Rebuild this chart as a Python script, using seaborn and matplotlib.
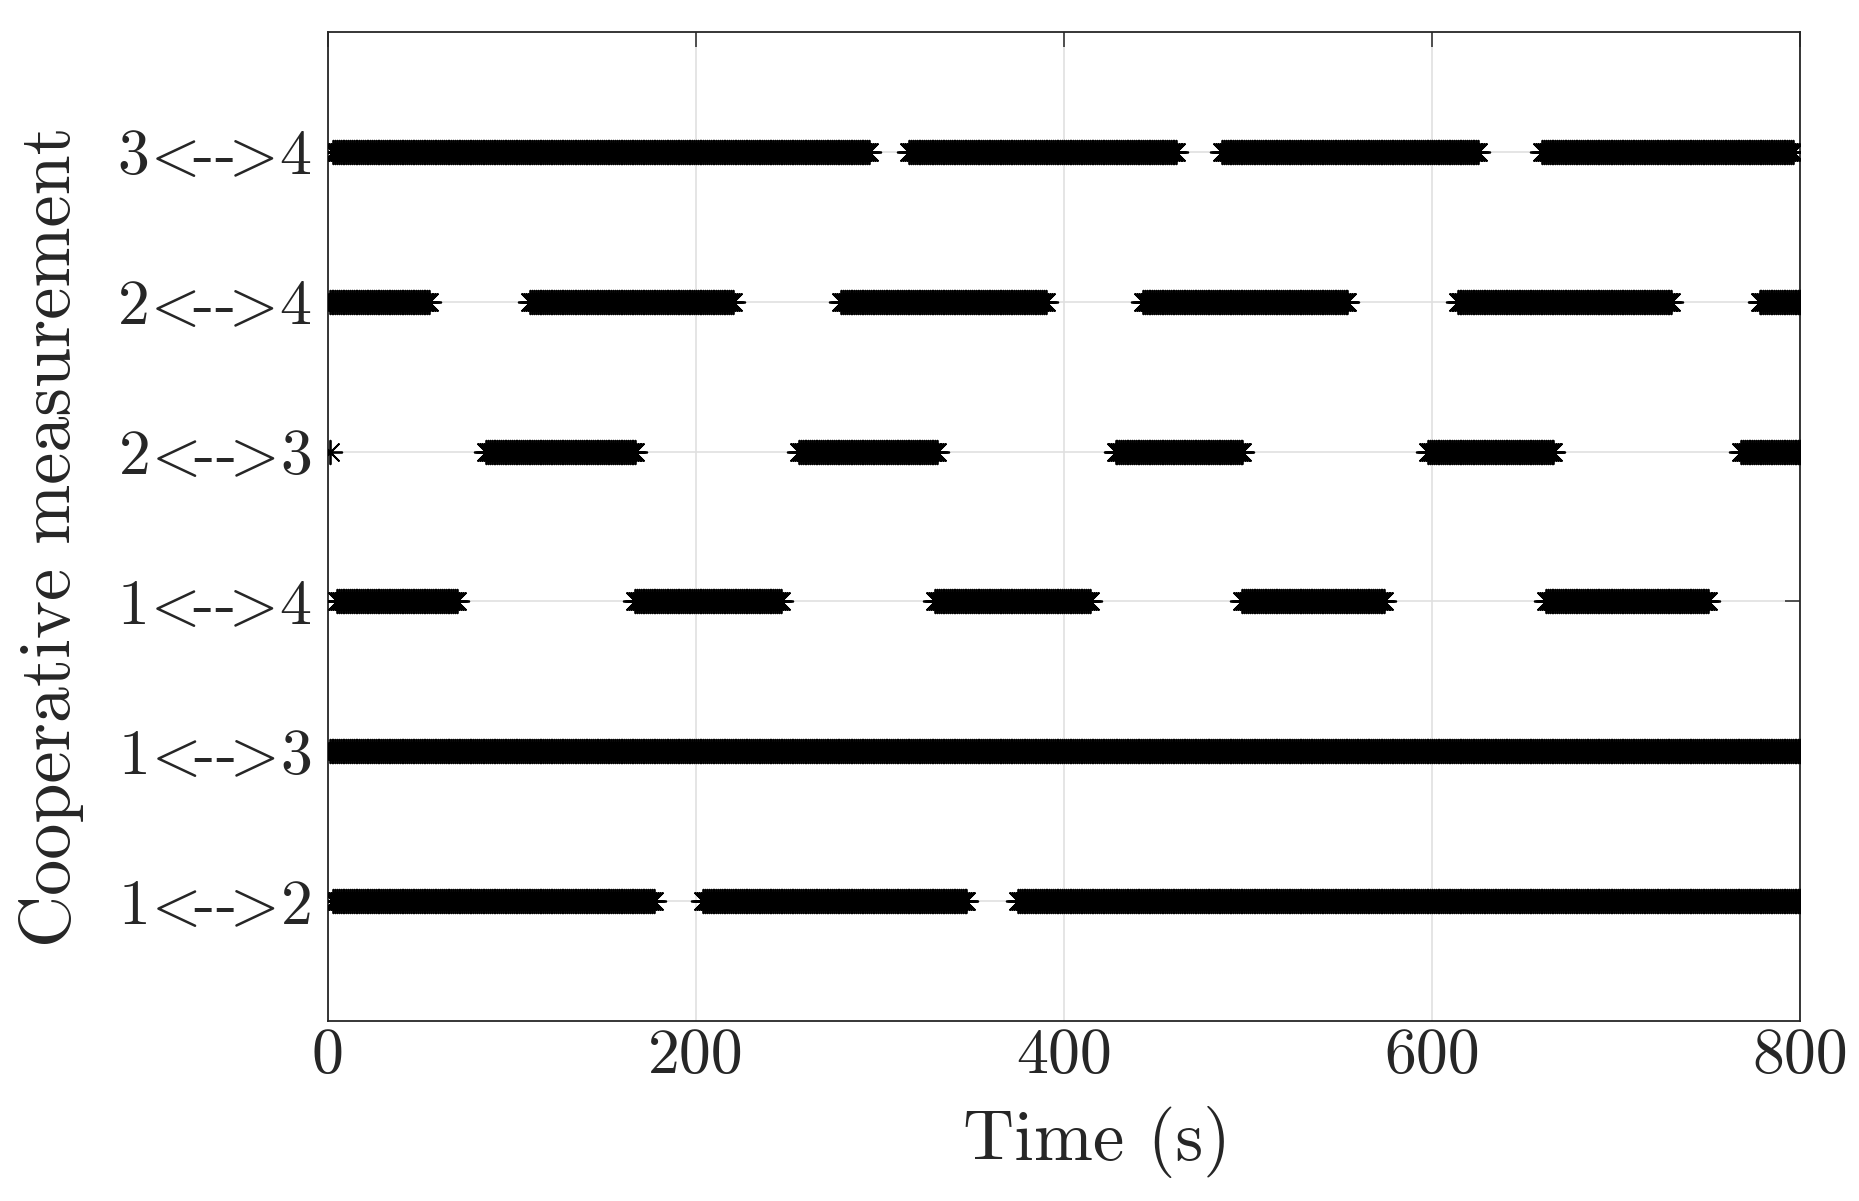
import numpy as np
import pandas as pd
import matplotlib
matplotlib.use('Agg')
import matplotlib.pyplot as plt
import seaborn as sns

# Links between agents (bottom to top) and the time windows (s) where a
# cooperative measurement was available, read off the figure
links = ['1<-->2', '1<-->3', '1<-->4', '2<-->3', '2<-->4', '3<-->4']
windows_12 = [(3, 177), (204, 347), (375, 800)]
windows_13 = [(1, 800)]
windows_14 = [(5, 70), (167, 246), (330, 414), (497, 574), (662, 750)]
windows_23 = [(1, 1), (86, 167), (256, 331), (428, 497), (598, 666), (768, 800)]
windows_24 = [(1, 55), (110, 220), (279, 390), (443, 554), (614, 730), (778, 800)]
windows_34 = [(3, 294), (316, 461), (486, 625), (660, 796)]
all_windows = [windows_12, windows_13, windows_14, windows_23, windows_24, windows_34]
sample_step = 1  # one measurement per second
x_ticks = [0, 200, 400, 600, 800]

rows = []
for level, (name, wins) in enumerate(zip(links, all_windows), start=1):
    for t0, t1 in wins:
        for t in np.arange(t0, t1 + sample_step, sample_step):
            rows.append({'time': t, 'level': level, 'link': name})
df = pd.DataFrame(rows)

sns.set_style('whitegrid')
plt.rcParams['font.family'] = ['cmr10', 'DejaVu Serif']
plt.rcParams['mathtext.fontset'] = 'cm'
plt.rcParams['axes.formatter.use_mathtext'] = True

fig = plt.figure(figsize=(18.59, 12.01), dpi=100)
ax = fig.add_axes([0.1764, 0.1499, 0.7919, 0.8235])

sns.scatterplot(data=df, x='time', y='level', ax=ax, marker=(8, 2, 0),
                color='black', s=17 ** 2, linewidth=1.3, legend=False, zorder=3)

ax.set_xlim(0, 800)
ax.set_ylim(0.2, 6.8)
ax.set_xticks(x_ticks)
ax.set_xticklabels([str(v) for v in x_ticks])
ax.set_yticks(range(1, len(links) + 1))
ax.set_yticklabels([r'$%s\!<\!\!\text{--}\!\!>\!%s$' % (l[0], l[-1]) for l in links])

ax.grid(True, color='#e0e0e0', linewidth=1.2)
ax.set_axisbelow(True)
for sp in ax.spines.values():
    sp.set_color('#262626')
    sp.set_linewidth(1.3)
ax.tick_params(direction='in', length=11, width=1.1, color='#262626',
               labelsize=46, labelcolor='#262626', top=True, right=True)
ax.tick_params(axis='x', pad=5)
ax.tick_params(axis='y', pad=12)

ax.set_xlabel('Time (s)', fontsize=51, color='#262626', va='top')
ax.xaxis.set_label_coords(0.522, -0.086)
ax.set_ylabel('Cooperative measurement', fontsize=52, color='#262626')
ax.yaxis.set_label_coords(-0.166, 0.49)

fig.savefig('out.png', dpi=100, facecolor='white')
